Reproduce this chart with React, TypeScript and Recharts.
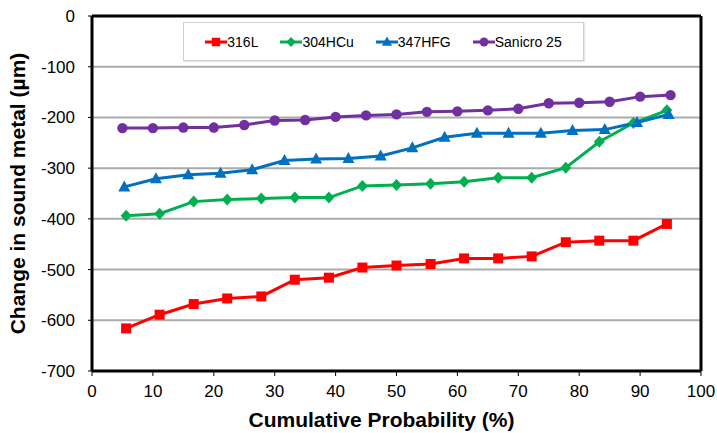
import React from "react";
import {
  LineChart,
  Line,
  XAxis,
  YAxis,
  CartesianGrid,
  ReferenceLine,
  Legend,
} from "recharts";

// ---- data ----
const probA = [5.6, 11.1, 16.7, 22.2, 27.8, 33.3, 38.9, 44.4, 50.0, 55.6, 61.1, 66.7, 72.2, 77.8, 83.3, 88.9, 94.4];
const s316L = [-616, -589, -568, -557, -553, -520, -516, -496, -492, -489, -478, -478, -474, -446, -443, -443, -410];
const s304HCu = [-394, -390, -366, -362, -360, -358, -358, -335, -333, -331, -327, -319, -319, -299, -248, -211, -186];

const probB = [5.3, 10.5, 15.8, 21.1, 26.3, 31.6, 36.8, 42.1, 47.4, 52.6, 57.9, 63.2, 68.4, 73.7, 78.9, 84.2, 89.5, 94.7];
const s347HFG = [-337, -321, -313, -310, -303, -285, -282, -281, -276, -260, -239, -231, -231, -231, -226, -224, -210, -194];

const probC = [5, 10, 15, 20, 25, 30, 35, 40, 45, 50, 55, 60, 65, 70, 75, 80, 85, 90, 95];
const sSanicro = [-221, -221, -220, -220, -215, -206, -205, -199, -196, -194, -189, -188, -186, -183, -172, -171, -169, -159, -156];

const seriesNames = ["316L", "304HCu", "347HFG", "Sanicro 25"];
const xTicks = [0, 10, 20, 30, 40, 50, 60, 70, 80, 90, 100];
const yTicks = [0, -100, -200, -300, -400, -500, -600, -700];

const toRows = (xs: number[], ys: number[]) => xs.map((x, i) => ({ x, y: ys[i] }));
const d316 = toRows(probA, s316L);
const d304 = toRows(probA, s304HCu);
const d347 = toRows(probB, s347HFG);
const dSan = toRows(probC, sSanicro);

const RED = "#ff0000";
const GREEN = "#00b050";
const BLUE = "#0070c0";
const PURPLE = "#7030a0";
const FONT = "'Liberation Sans', Arial, sans-serif";

type Shape = "square" | "diamond" | "triangle" | "circle";

function Marker({ cx, cy, shape, color, s = 1 }: { cx: number; cy: number; shape: Shape; color: string; s?: number }) {
  if (cx == null || cy == null) return null;
  if (shape === "square") {
    const h = 5 * s;
    return <rect x={cx - h} y={cy - h} width={2 * h} height={2 * h} fill={color} />;
  }
  if (shape === "diamond") {
    const w = 5.5 * s, h = 6 * s;
    return <polygon points={`${cx},${cy - h} ${cx + w},${cy} ${cx},${cy + h} ${cx - w},${cy}`} fill={color} />;
  }
  if (shape === "triangle") {
    const w = 6 * s;
    return <polygon points={`${cx},${cy - 6.5 * s} ${cx + w},${cy + 4.5 * s} ${cx - w},${cy + 4.5 * s}`} fill={color} />;
  }
  return <circle cx={cx} cy={cy} r={5.2 * s} fill={color} />;
}

const makeDot = (shape: Shape, color: string) => (props: any) => (
  <Marker key={`${shape}-${props.index}`} cx={props.cx} cy={props.cy} shape={shape} color={color} />
);

const legendItems: { name: string; color: string; shape: Shape }[] = [
  { name: seriesNames[0], color: RED, shape: "square" },
  { name: seriesNames[1], color: GREEN, shape: "diamond" },
  { name: seriesNames[2], color: BLUE, shape: "triangle" },
  { name: seriesNames[3], color: PURPLE, shape: "circle" },
];

const renderLegend = () => (
  <div
    style={{
      width: 401,
      height: 39,
      boxSizing: "border-box",
      border: "1px solid #cfcfcf",
      boxShadow: "1px 1px 1px #e6e6e6",
      background: "#fff",
      display: "flex",
      alignItems: "center",
      justifyContent: "center",
      gap: 22,
      fontFamily: FONT,
      fontSize: 14,
      color: "#000",
    }}
  >
    {legendItems.map((it) => (
      <div key={it.name} style={{ display: "flex", alignItems: "center" }}>
        <svg width={22} height={14} style={{ display: "block" }}>
          <line x1={0} y1={7} x2={22} y2={7} stroke={it.color} strokeWidth={3} />
          <Marker cx={11} cy={7} shape={it.shape} color={it.color} s={0.85} />
        </svg>
        <span>{it.name}</span>
      </div>
    ))}
  </div>
);

const XTitle = (props: any) => {
  const vb = props.viewBox || {};
  return (
    <text
      x={vb.x + vb.width / 2 - 15}
      y={427}
      textAnchor="middle"
      fontFamily={FONT}
      fontWeight="bold"
      fontSize={21}
      fill="#000"
    >
      Cumulative Probability (%)
    </text>
  );
};

const YTitle = (props: any) => {
  const vb = props.viewBox || {};
  const cy = vb.y + vb.height / 2;
  return (
    <text
      x={25}
      y={cy}
      transform={`rotate(-90, 25, ${cy})`}
      textAnchor="middle"
      fontFamily={FONT}
      fontWeight="bold"
      fontSize={21}
      fill="#000"
    >
      Change in sound metal (µm)
    </text>
  );
};

export default function App() {
  const tickStyle = { fontFamily: FONT, fontSize: 17, fill: "#000" };
  return (
    <div style={{ position: "absolute", left: 0, top: 0, width: 717, height: 433, background: "#fff" }}>
      <LineChart width={717} height={433} margin={{ top: 16, right: 16, bottom: 0, left: 0 }}>
        <CartesianGrid vertical={false} stroke="#ababab" strokeWidth={2} />
        <XAxis
          type="number"
          dataKey="x"
          domain={[0, 100]}
          ticks={xTicks}
          interval={0}
          height={62}
          axisLine={{ stroke: "#000", strokeWidth: 3 }}
          tickLine={{ stroke: "#000", strokeWidth: 1 }}
          tickSize={5}
          tickMargin={9}
          tick={tickStyle}
          allowDataOverflow
          label={<XTitle />}
        />
        <YAxis
          type="number"
          domain={[-700, 0]}
          ticks={yTicks}
          interval={0}
          width={92}
          axisLine={{ stroke: "#000", strokeWidth: 3 }}
          tickLine={{ stroke: "#000", strokeWidth: 1 }}
          tickSize={4}
          tickMargin={13}
          tick={tickStyle}
          allowDataOverflow
          label={<YTitle />}
        />
        <ReferenceLine x={100} stroke="#000" strokeWidth={3} />
        <ReferenceLine y={0} stroke="#000" strokeWidth={3} />
        <Legend
          layout="horizontal"
          verticalAlign="middle"
          align="center"
          content={renderLegend}
          wrapperStyle={{ position: "absolute", left: 183, top: 22, width: 401, height: 39 }}
        />
        <Line data={d316} dataKey="y" name={seriesNames[0]} stroke={RED} strokeWidth={3} dot={makeDot("square", RED)} isAnimationActive={false} />
        <Line data={d304} dataKey="y" name={seriesNames[1]} stroke={GREEN} strokeWidth={3} dot={makeDot("diamond", GREEN)} isAnimationActive={false} />
        <Line data={d347} dataKey="y" name={seriesNames[2]} stroke={BLUE} strokeWidth={3} dot={makeDot("triangle", BLUE)} isAnimationActive={false} />
        <Line data={dSan} dataKey="y" name={seriesNames[3]} stroke={PURPLE} strokeWidth={3} dot={makeDot("circle", PURPLE)} isAnimationActive={false} />
      </LineChart>
    </div>
  );
}
